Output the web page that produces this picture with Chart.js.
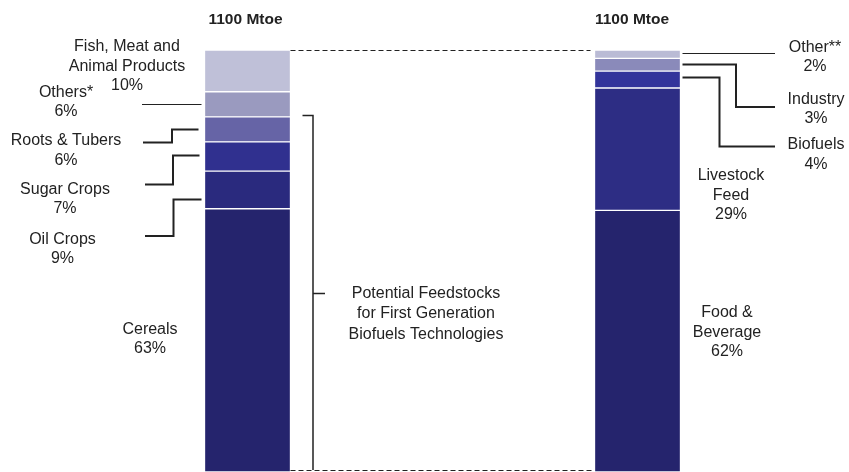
<!DOCTYPE html>
<html>
<head>
<meta charset="utf-8">
<script src="https://cdn.jsdelivr.net/npm/chart.js@4.4.1/dist/chart.umd.min.js"></script>
<style>
  html, body { margin: 0; padding: 0; background: #fff; }
  #wrap { position: relative; width: 849px; height: 472px; }
</style>
</head>
<body>
<div id="wrap"><canvas id="chart"></canvas></div>
<script>
// Two stacked bars: biomass supply by feedstock (left) and by end use (right)
const bars = ['Feedstocks', 'End uses'];
const totals = ['1100 Mtoe', '1100 Mtoe'];

// Left bar, bottom to top (% of total)
const feedstockNames = ['Cereals', 'Oil Crops', 'Sugar Crops', 'Roots & Tubers', 'Others*', 'Fish, Meat and Animal Products'];
const feedstockShares = [63, 9, 7, 6, 6, 10];
const feedstockColors = ['#25246d', '#2a2a7e', '#30308f', '#6664a6', '#9a9abf', '#bfc0d8'];

// Right bar, bottom to top (% of total)
const useNames = ['Food & Beverage', 'Livestock Feed', 'Biofuels', 'Industry', 'Other**'];
const useShares = [62, 29, 4, 3, 2];
const useColors = ['#25246d', '#2d2d84', '#33349b', '#8a8aba', '#babbd5'];

const feedstockNote = ['Potential Feedstocks', 'for First Generation', 'Biofuels Technologies'];

const sum = arr => arr.reduce((a, b) => a + b, 0);

// Label placement for each segment (same order as the share arrays)
const feedstockLayout = [
  { x: 150, y: 329.5, breakAt: 0 },
  { x: 62.5, y: 239.5, breakAt: 0, leader: { from: [145, 236], elbow: 173.5, frac: 0.74, gap: 3, width: 2 } },
  { x: 65, y: 189.5, breakAt: 0, leader: { from: [145, 184.5], elbow: 173, frac: 0.45, gap: 5, width: 2 } },
  { x: 66, y: 141, breakAt: 0, leader: { from: [143, 142.5], elbow: 172, frac: 0.5, gap: 6, width: 2 } },
  { x: 66, y: 92.5, breakAt: 0, leader: { fromX: 142, frac: 0.5, gap: 3, width: 1 } },
  { x: 127, y: 47, breakAt: 3 }
];
const useLayout = [
  { x: 727, y: 313, breakAt: 2 },
  { x: 731, y: 176, breakAt: 1 },
  { x: 816, y: 145, breakAt: 0, leader: { toY: 146.5, elbow: 719.5, endX: 775, frac: 0.33, gap: 2, width: 2 } },
  { x: 816, y: 99.5, breakAt: 0, leader: { toY: 107, elbow: 736, endX: 775, frac: 0.45, gap: 2, width: 2 } },
  { x: 815, y: 47.5, breakAt: 0, leader: { toY: null, endX: 775, frac: 0.3, gap: 2, width: 1 } }
];

function labelLines(name, share, breakAt) {
  const words = name.split(' ');
  const lines = breakAt > 0 ? [words.slice(0, breakAt).join(' '), words.slice(breakAt).join(' ')] : [name];
  lines.push(share + '%');
  return lines;
}

function segment(scale, shares, i) {
  const start = sum(shares.slice(0, i));
  const end = start + shares[i];
  return { top: scale.getPixelForValue(end), bottom: scale.getPixelForValue(start) };
}

const FONT = '16px "Liberation Sans", Arial, sans-serif';
const INK = '#222';

const annotations = {
  id: 'annotations',
  afterDatasetsDraw(chart) {
    const ctx = chart.ctx;
    const yL = chart.scales.yL, yR = chart.scales.yR;
    const leftEl = chart.getDatasetMeta(0).data[0];
    const rightEl = chart.getDatasetMeta(feedstockShares.length).data[1];
    const lLeft = leftEl.x - leftEl.width / 2, lRight = leftEl.x + leftEl.width / 2;
    const rLeft = rightEl.x - rightEl.width / 2, rRight = rightEl.x + rightEl.width / 2;
    const area = chart.chartArea;

    ctx.save();
    ctx.fillStyle = INK;
    ctx.strokeStyle = INK;
    ctx.textAlign = 'center';
    ctx.textBaseline = 'middle';

    // totals above each bar
    ctx.font = 'bold 15.5px "Liberation Sans", Arial, sans-serif';
    ctx.fillText(totals[0], leftEl.x - 2, 19.5);
    ctx.fillText(totals[1], rightEl.x - 5.5, 19.5);

    // segment labels and leader lines
    ctx.font = FONT;
    const step = 19.5;
    feedstockLayout.forEach((L, i) => {
      labelLines(feedstockNames[i], feedstockShares[i], L.breakAt).forEach((t, k) => ctx.fillText(t, L.x, L.y + k * step));
      if (!L.leader) return;
      const s = segment(yL, feedstockShares, i);
      const ay = Math.round(s.top + L.leader.frac * (s.bottom - s.top)) + 0.5;
      const ex = lLeft - L.leader.gap;
      ctx.lineWidth = L.leader.width;
      ctx.beginPath();
      if (L.leader.from) {
        ctx.moveTo(L.leader.from[0], L.leader.from[1]);
        ctx.lineTo(L.leader.elbow, L.leader.from[1]);
        ctx.lineTo(L.leader.elbow, ay);
        ctx.lineTo(ex, ay);
      } else {
        ctx.moveTo(L.leader.fromX, ay);
        ctx.lineTo(ex, ay);
      }
      ctx.stroke();
    });
    useLayout.forEach((L, i) => {
      labelLines(useNames[i], useShares[i], L.breakAt).forEach((t, k) => ctx.fillText(t, L.x, L.y + k * step));
      if (!L.leader) return;
      const s = segment(yR, useShares, i);
      const ay = Math.round(s.top + L.leader.frac * (s.bottom - s.top)) + 0.5;
      const sx = rRight + L.leader.gap;
      ctx.lineWidth = L.leader.width;
      ctx.beginPath();
      ctx.moveTo(sx, ay);
      if (L.leader.toY !== null) {
        ctx.lineTo(L.leader.elbow, ay);
        ctx.lineTo(L.leader.elbow, L.leader.toY);
        ctx.lineTo(L.leader.endX, L.leader.toY);
      } else {
        ctx.lineTo(L.leader.endX, ay);
      }
      ctx.stroke();
    });

    // dashed lines joining the two totals
    ctx.lineWidth = 1;
    ctx.setLineDash([5, 3]);
    ctx.beginPath();
    ctx.moveTo(lRight, Math.round(area.top) + 0.5);
    ctx.lineTo(rLeft - 4, Math.round(area.top) + 0.5);
    ctx.moveTo(lRight, area.bottom - 1.5);
    ctx.lineTo(rLeft, area.bottom - 1.5);
    ctx.stroke();
    ctx.setLineDash([]);

    // bracket over the first-generation feedstocks
    const firstGen = sum(feedstockShares.slice(0, 4));
    const bx = lRight + 22.5;
    const bTop = Math.round(yL.getPixelForValue(firstGen)) - 1.5;
    const bBottom = area.bottom - 2;
    const bMid = 293.5;
    ctx.lineWidth = 1.5;
    ctx.beginPath();
    ctx.moveTo(bx - 10.5, bTop);
    ctx.lineTo(bx, bTop);
    ctx.lineTo(bx, bBottom);
    ctx.moveTo(bx, bMid);
    ctx.lineTo(bx + 12, bMid);
    ctx.stroke();
    feedstockNote.forEach((t, k) => ctx.fillText(t, 426, bMid + k * 20.5));

    ctx.restore();
  }
};

const datasets = [
  ...feedstockShares.map((v, i) => ({
    label: feedstockNames[i], data: [v, null], backgroundColor: feedstockColors[i], yAxisID: 'yL'
  })),
  ...useShares.map((v, i) => ({
    label: useNames[i], data: [null, v], backgroundColor: useColors[i], yAxisID: 'yR'
  }))
].map(d => Object.assign(d, {
  borderColor: 'rgba(255,255,255,0.85)', borderWidth: 1, borderSkipped: false, barThickness: 86
}));

new Chart(document.getElementById('chart'), {
  type: 'bar',
  data: { labels: bars, datasets },
  options: {
    responsive: true,
    maintainAspectRatio: false,
    animation: false,
    layout: { padding: { top: 50, bottom: 0, left: 52.5, right: 16.5 } },
    plugins: { legend: { display: false }, tooltip: { enabled: false } },
    scales: {
      x: { display: false, stacked: true },
      yL: { display: false, stacked: true, min: 0, max: sum(feedstockShares) },
      yR: { display: false, stacked: true, min: 0, max: sum(useShares) }
    }
  },
  plugins: [annotations]
});
</script>
</body>
</html>
